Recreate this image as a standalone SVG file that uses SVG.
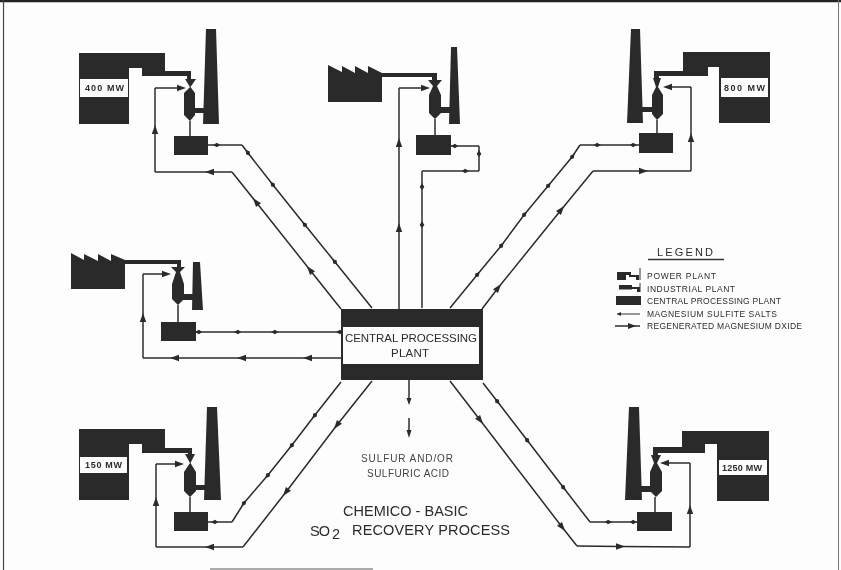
<svg xmlns="http://www.w3.org/2000/svg" width="841" height="570" viewBox="0 0 841 570">
<defs>
<style>
text{font-family:"Liberation Sans",Arial,sans-serif;fill:#2c2c2c}
.d{fill:#2b2b2b;stroke:none}
.w{fill:#fdfdfd;stroke:none}
.c{fill:none;stroke:#2b2b2b;stroke-width:1.5;stroke-linejoin:round}
.s{marker-mid:url(#sm)}
.r{marker-mid:url(#bg)}
.e{marker-end:url(#bg)}
.lab{font-size:9px;font-weight:bold}
.leg{font-size:8.5px}
.mid{font-size:10px;fill:#444}
.ttl{font-size:14.5px}
.cp{font-size:11.5px}
</style>
<marker id="sm" markerUnits="userSpaceOnUse" markerWidth="8" markerHeight="6" refX="4" refY="3" orient="auto"><path d="M0 3L4 .7 7 3 4 5.300Z" fill="#2b2b2b"/></marker>
<marker id="bg" markerUnits="userSpaceOnUse" markerWidth="10" markerHeight="8" refX="5" refY="4" orient="auto"><path d="M0 4L9 .8V7.200Z" transform="rotate(180 5 4)" fill="#2b2b2b"/></marker>
<filter id="soft" x="0" y="0" width="100%" height="100%"><feGaussianBlur stdDeviation="0.6"/></filter>
</defs>
<rect width="841" height="570" fill="#fdfdfd"/>
<g filter="url(#soft)">
<g id="frame">
<path d="M0 1H841" stroke="#222" stroke-width="2.500" fill="none"/>
<path d="M3.500 0V570" stroke="#444" stroke-width="1.200" fill="none"/>
<path d="M838.500 0V570" stroke="#777" stroke-width="1" fill="none"/>
<path d="M210 569H373" stroke="#aaa" stroke-width="2" fill="none"/>
</g>
<g id="connectors">
<polyline class="c s" points="208,145 217,145 242,145"/>
<polyline class="c s" points="242,145 248,153 273,185 305,225 335,262 372,308"/>
<polyline class="c r" points="341,309 310,270 256,202 232,172"/>
<polyline class="c r" points="232,172 210,172 155,172"/>
<polyline class="c r" points="155,172 155,130 155,88"/>
<polyline class="c e" points="155,88 181,88"/>

<polyline class="c s" points="451,146 455,146 479,146"/>
<polyline class="c s" points="479,146 479,154 479,171"/>
<polyline class="c s" points="479,171 465,171 422,171"/>
<polyline class="c s" points="422,171 422,187 422,225 422,308"/>
<polyline class="c r" points="399,309 399,228 399,143 399,88"/>
<polyline class="c e" points="399,88 425,88"/>

<polyline class="c s" points="639,145 633,145 597,145 580,145"/>
<polyline class="c s" points="580,145 572,157 548,186 524,215 501,246 477,275 450,308"/>
<polyline class="c r" points="482,309 498,288 561,210 593,171"/>
<polyline class="c r" points="593,171 643,171 691,171"/>
<polyline class="c r" points="691,171 691,138 691,87"/>
<polyline class="c e" points="691,87 668,87"/>

<polyline class="c s" points="196,332 199,332 238,332 275,332 340,332 343,332"/>
<polyline class="c r" points="343,358 308,358 242,358 175,358 143,358"/>
<polyline class="c r" points="143,358 143,318 143,274"/>
<polyline class="c e" points="143,274 166,274"/>

<polyline class="c s" points="208,522 215,522 232,522"/>
<polyline class="c s" points="232,522 244,503 268,475 292,445 315,415 341,382"/>
<polyline class="c r" points="372,381 337,425 286,492 243,547"/>
<polyline class="c r" points="243,547 210,547 156,547"/>
<polyline class="c r" points="156,547 156,502 156,464"/>
<polyline class="c e" points="156,464 179,464"/>

<polyline class="c s" points="637,522 633,522 608,522 590,522"/>
<polyline class="c s" points="590,522 563,487 527,440 497,401 483,383"/>
<polyline class="c r" points="450,381 480,420 562,527 577,546"/>
<polyline class="c r" points="577,546 620,546.500 690,547"/>
<polyline class="c r" points="690,547 690,510 690,463"/>
<polyline class="c e" points="690,463 665,463"/>

<path class="c" d="M409 380V403"/>
<path class="d" d="M406.500 398H411.500L409 405Z"/>
<path class="c" d="M409 418V434"/>
<path class="d" d="M406.500 430H411.500L409 438Z"/>
</g>
<g id="plant-400"><path class="d" d="M79 53H165V71H191V80H187V76H142V68H129V124H79Z"/><rect class="w" x="80" y="79" width="48" height="18"/><text class="lab" x="85" y="91" textLength="39">400 MW</text>
<path class="d" d="M206 29H216L219 124H203Z"/><path class="d" d="M185 79H196L190.500 87L195 93V115L190 121L184 115V93L190 87Z"/><rect class="d" x="190" y="108" width="15" height="5"/><path class="c" d="M190 121V137"/><rect class="d" x="174" y="136" width="34" height="19"/></g>
<g id="plant-industrial-top"><path class="d" d="M328 65L342 72V66L355 73V66L368 73V66L382 73H437V80H442L437 86L441 95V113L435 119L429 113V95L433 86L428 80H432V77H382V102H328Z"/>
<path class="d" d="M451 47H457L460 124H449Z"/><rect class="d" x="438" y="107" width="13" height="6"/><path class="c" d="M435 119V136"/><rect class="d" x="416" y="135" width="35" height="20"/></g>
<g id="plant-800"><path class="d" d="M683 52H770V123H719V67H708V76H659V81H654V71H683Z"/><rect class="w" x="721" y="78" width="47" height="19"/><text class="lab" x="724" y="91" textLength="41">800 MW</text>
<path class="d" d="M631 29H640L643 123H627Z"/><path class="d" d="M653 78H661L658 87L663 95V114L657 120L652 114V95L656 87Z"/><rect class="d" x="641" y="107" width="12" height="5"/><path class="c" d="M657 120V134"/><rect class="d" x="639" y="133" width="34" height="20"/></g>
<g id="plant-industrial-left"><path class="d" d="M71 253L84 260V254L98 261V254L111 261V254L125 260H181V267H185L180 272L184 284V299L178 305L172 299V284L176 272L171 267H177V264H125V289H71Z"/>
<path class="d" d="M193 262H200L203 310H192Z"/><rect class="d" x="183" y="294" width="10" height="6"/><path class="c" d="M178 305V323"/><rect class="d" x="161" y="322" width="35" height="19"/></g>
<g id="central-plant"><rect class="d" x="341" y="309" width="142" height="71"/><rect class="w" x="343" y="327" width="136" height="37"/><text class="cp" x="345" y="342" textLength="132">CENTRAL PROCESSING</text><text class="cp" x="391" y="357" textLength="38">PLANT</text></g>
<g id="plant-150"><path class="d" d="M79 429H165V448H192V455H188V453H142V444H129V500H79Z"/><rect class="w" x="80" y="457" width="47" height="16"/><text class="lab" x="85" y="468" textLength="37">150 MW</text>
<path class="d" d="M185 454H195L190.500 463L196 472V491L190 497L184 491V472L190 463Z"/><path class="d" d="M207 407H217L221 500H204Z"/><rect class="d" x="196" y="485" width="10" height="5"/><path class="c" d="M190 497V513"/><rect class="d" x="174" y="512" width="34" height="19"/></g>
<g id="plant-1250"><path class="d" d="M682 431H769V501H717V444H705V453H658V456H653V447H682Z"/><rect class="w" x="719" y="460" width="48" height="15"/><text class="lab" x="722" y="471" textLength="40">1250 MW</text>
<path class="d" d="M629 407H639L642 500H625Z"/><path class="d" d="M651 455H661L657 463L662 472V491L656 497L650 491V472L654 463Z"/><rect class="d" x="641" y="486" width="10" height="6"/><path class="c" d="M655 497V513"/><rect class="d" x="637" y="512" width="35" height="19"/></g>
<g id="legend">
<text x="657" y="256" font-size="11" textLength="56">LEGEND</text>
<path d="M648 259.500H724" stroke="#333" stroke-width="1.500" fill="none"/>
<path class="d" d="M617 272H631V275H639V280H636V277H629V275H626V280H617Z"/><path d="M640 268V280" stroke="#333" fill="none"/>
<path class="d" d="M619 285H632V287H640V292H637V289H632V289.500H619Z"/><path d="M640 283V292" stroke="#333" fill="none"/>
<rect class="d" x="616" y="296" width="25" height="9"/>
<path d="M617 314H640" stroke="#333" fill="none"/><path class="d" d="M617 314L621 312V316Z"/>
<path d="M615 326H640" stroke="#2b2b2b" stroke-width="1.500" fill="none"/><path class="d" d="M636 326L628 323V329Z"/>
<text class="leg" x="647" y="279" textLength="69">POWER PLANT</text>
<text class="leg" x="647" y="292" textLength="88">INDUSTRIAL PLANT</text>
<text class="leg" x="647" y="304" textLength="134">CENTRAL PROCESSING PLANT</text>
<text class="leg" x="647" y="317" textLength="130">MAGNESIUM SULFITE SALTS</text>
<text class="leg" x="647" y="329" textLength="155">REGENERATED MAGNESIUM DXIDE</text>
</g>
<g id="captions">
<text class="mid" x="361" y="462" textLength="92">SULFUR AND/OR</text>
<text class="mid" x="367" y="477" textLength="82">SULFURIC ACID</text>
<text class="ttl" x="343" y="516" textLength="125">CHEMICO - BASIC</text>
<text class="ttl" x="310" y="536" textLength="20">SO</text>
<text class="ttl" x="332" y="539">2</text>
<text class="ttl" x="352" y="535" textLength="158">RECOVERY PROCESS</text>
</g>
</g>
</svg>
